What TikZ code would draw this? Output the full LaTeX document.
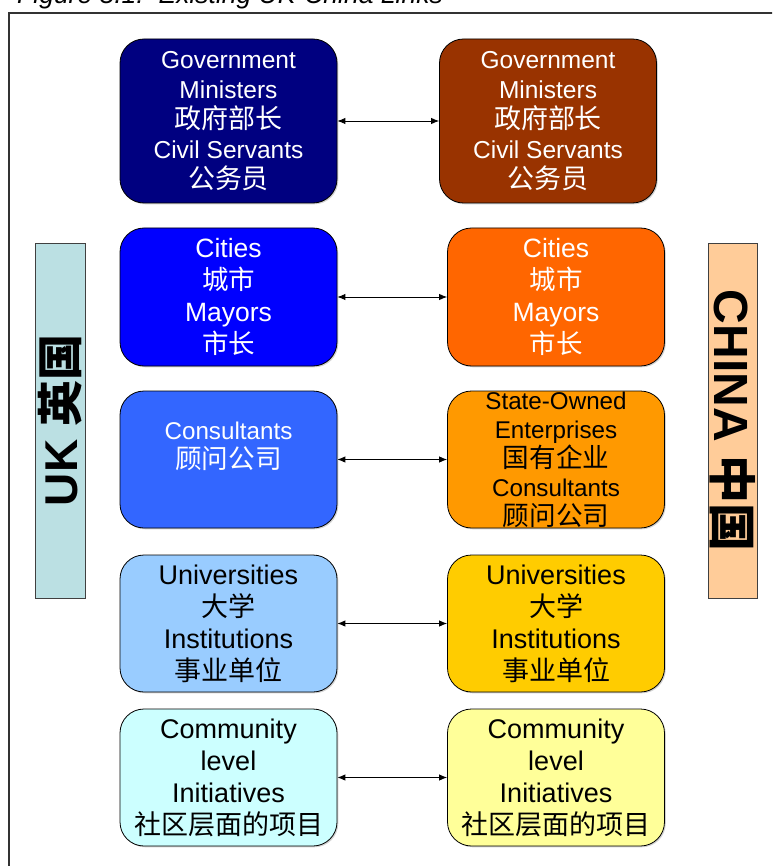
\documentclass[tikz,border=0pt]{standalone}
\usepackage{fontspec}
\setmainfont{Liberation Sans}
\newfontfamily\cjk{Noto Sans CJK SC}
\newfontfamily\cjkb{Noto Sans CJK SC}[Scale=1.1]
\usetikzlibrary{arrows.meta,shadows}
\definecolor{la}{HTML}{000080}
\definecolor{ra}{HTML}{993300}
\definecolor{lb}{HTML}{0000FF}
\definecolor{rb}{HTML}{FF6600}
\definecolor{lc}{HTML}{3366FF}
\definecolor{rc}{HTML}{FF9900}
\definecolor{ld}{HTML}{99CCFF}
\definecolor{rd}{HTML}{FFCC00}
\definecolor{le}{HTML}{CCFFFF}
\definecolor{re}{HTML}{FFFF99}
\definecolor{ukc}{HTML}{BBE0E3}
\definecolor{cnc}{HTML}{FFCC99}
\definecolor{framec}{HTML}{333333}
\tikzset{
  box/.style={draw=black, line width=0.8pt, rounded corners=24pt, align=center,
    inner sep=0pt, minimum width=217pt,
    drop shadow={shadow xshift=1.3pt, shadow yshift=-1.3pt, fill=black!35}},
  link/.style={line width=0.9pt, {Latex[length=8pt,width=6.5pt]}-{Latex[length=8pt,width=6.5pt]}},
  side/.style={draw=black!75, line width=0.8pt, inner sep=0pt, font=\bfseries},
  fa/.style={font=\fontsize{24.5}{30}\selectfont},
  fb/.style={font=\fontsize{26.5}{32}\selectfont},
  fc/.style={font=\fontsize{24.2}{29}\selectfont},
  fd/.style={font=\fontsize{27}{32}\selectfont},
}
\begin{document}
\begin{tikzpicture}[x=1pt,y=-1pt]
\useasboundingbox (0,0) rectangle (772,866);
\clip (0,0) rectangle (772,866);
% caption and frame
\node[anchor=base west, inner sep=0pt, font=\fontsize{26.5}{26.5}\selectfont\itshape] (cap) at (17,3.5) {Figure 5.1:\ \ Existing UK-China Links};
\draw[framec, line width=1.3pt] (9,880) -- (9,13) -- (790,13);
% row 1
\node[box, fill=la, text=white, fa, minimum height=164pt] (l1) at (228.5,121) {Government\\Ministers\\{\cjkb 政府部长}\\Civil Servants\\{\cjkb 公务员}};
\node[box, fill=ra, text=white, fa, minimum height=164pt] (r1) at (548,121) {Government\\Ministers\\{\cjkb 政府部长}\\Civil Servants\\{\cjkb 公务员}};
% row 2
\node[box, fill=lb, text=white, fb, minimum height=138pt] (l2) at (228.5,297) {Cities\\{\cjk 城市}\\Mayors\\{\cjk 市长}};
\node[box, fill=rb, text=white, fb, minimum height=138pt] (r2) at (556,297) {Cities\\{\cjk 城市}\\Mayors\\{\cjk 市长}};
% row 3
\node[box, fill=lc, text=white, fc, minimum height=137pt] (l3) at (228.5,459.5) {Consultants\\{\cjkb 顾问公司}\\ \mbox{}};
\node[box, fill=rc, text=black, fc, minimum height=137pt] (r3) at (556,459.5) {State-Owned\\Enterprises\\{\cjkb 国有企业}\\Consultants\\{\cjkb 顾问公司}};
% row 4
\node[box, fill=ld, text=black, fd, minimum height=137pt] (l4) at (228.5,623.5) {Universities\\{\cjk 大学}\\Institutions\\{\cjk 事业单位}};
\node[box, fill=rd, text=black, fd, minimum height=137pt] (r4) at (556,623.5) {Universities\\{\cjk 大学}\\Institutions\\{\cjk 事业单位}};
% row 5
\node[box, fill=le, text=black, fd, minimum height=137pt] (l5) at (228.5,777.5) {Community\\level\\Initiatives\\{\cjk 社区层面的项目}};
\node[box, fill=re, text=black, fd, minimum height=137pt] (r5) at (556,777.5) {Community\\level\\Initiatives\\{\cjk 社区层面的项目}};
% links
\draw[link] (l1.east) -- (r1.west);
\draw[link] (l2.east) -- (r2.west);
\draw[link] (l3.east) -- (r3.west);
\draw[link] (l4.east) -- (r4.west);
\draw[link] (l5.east) -- (r5.west);
% side labels
\node[side, fill=ukc, rotate=90, minimum width=355pt, minimum height=50pt] (uk) at (60,420.5) {\fontsize{46}{46}\selectfont UK {\cjk\bfseries 英国}};
\node[side, fill=cnc, rotate=-90, minimum width=355pt, minimum height=49pt] (cn) at (732.5,420.5) {\fontsize{48}{48}\selectfont CHINA {\cjk\bfseries 中国}};
\end{tikzpicture}
\end{document}
